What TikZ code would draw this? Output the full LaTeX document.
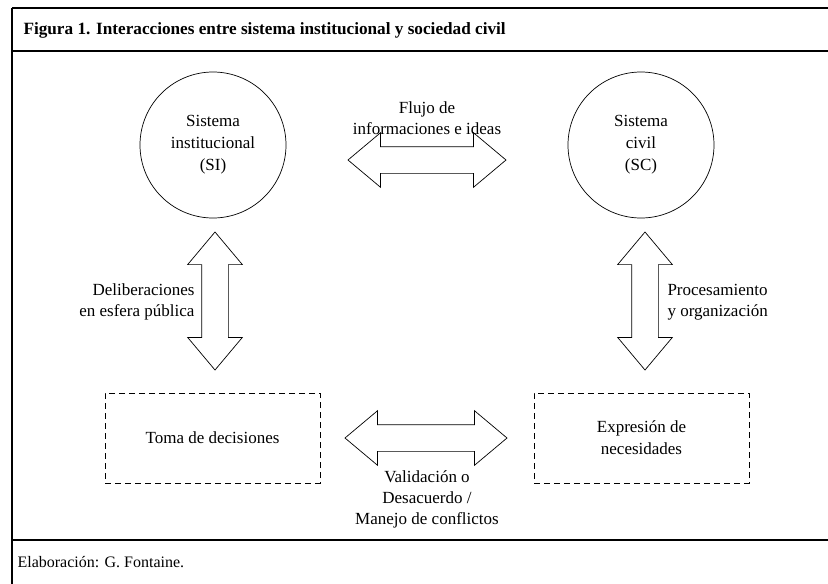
\documentclass[tikz,border=0pt]{standalone}
\usepackage{fontspec}
\setmainfont{Liberation Serif}
\usetikzlibrary{calc, positioning, shapes.arrows}

\begin{document}
\begin{tikzpicture}[x=1pt, y=-1pt,
  sys/.style={draw, circle, minimum size=146pt, inner sep=0pt, align=center,
              line width=0.7pt, font=\fontsize{17}{22}\selectfont},
  need/.style={draw, dash pattern=on 6pt off 4pt, minimum width=215pt,
               minimum height=90pt, align=center, line width=0.7pt,
               font=\fontsize{17}{22}\selectfont},
  flow/.style={draw, double arrow, double arrow head extend=14pt,
               double arrow tip angle=80, inner xsep=0pt, inner ysep=13pt,
               line width=0.7pt},
  lbl/.style={font=\fontsize{17}{21}\selectfont, align=center},
  rule/.style={line width=1.2pt},
]
\useasboundingbox (0,0) rectangle (828,584);

% marco
\draw[line width=1.8pt] (12,8) -- (828,8);
\draw[rule] (12,8) -- (12,584);
\draw[rule] (12,51) -- (828,51);
\draw[rule] (12,540) -- (828,540);

\node[anchor=west, font=\fontsize{17.2}{20}\selectfont\bfseries] (title) at (20,30)
  {Figura 1. Interacciones entre sistema institucional y sociedad civil};
\node[anchor=west, font=\fontsize{16}{18}\selectfont] (src) at (14,562)
  {Elaboración: G. Fontaine.};

% sistemas
\node[sys] (si) at (213,145) {Sistema\\institucional\\(SI)};
\node[sys] (sc) at (641,145) {Sistema\\civil\\(SC)};

% cajas
\node[need] (toma) at (212.5,438) {Toma de decisiones};
\node[need] (expr) at (641.5,438) {Expresión de\\necesidades};

% flechas
\node[flow, minimum height=158pt] (flujo) at (427,160) {};
\node[flow, minimum height=162pt] (valid) at (426,438) {};
\node[flow, minimum height=138pt, rotate=90] (delib) at (215,301) {};
\node[flow, minimum height=138pt, rotate=90] (proc) at (645,301) {};

\node[lbl] (lflujo) at (427,118) {Flujo de\\informaciones e ideas};
\node[lbl] (lvalid) at (427,499) {Validación o\\Desacuerdo /\\Manejo de conflictos};
\node[lbl, align=right, anchor=east] (ldelib) at (198,302) {Deliberaciones\\en esfera pública};
\node[lbl, align=left, anchor=west] (lproc) at (664,302) {Procesamiento\\y organización};
\end{tikzpicture}
\end{document}
